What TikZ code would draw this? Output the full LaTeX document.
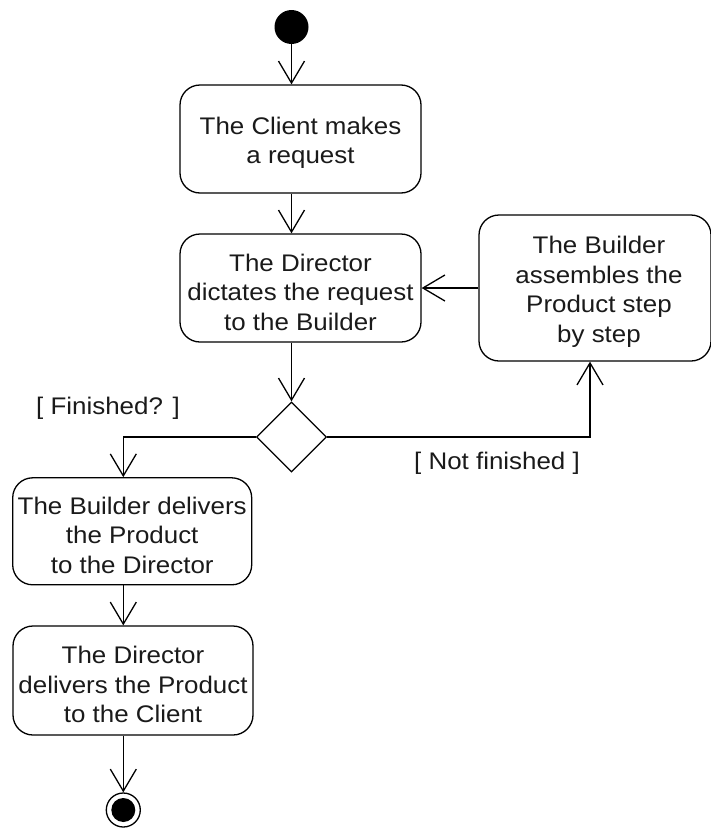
\documentclass[tikz,border=0pt]{standalone}
\usepackage{fontspec}
\setmainfont{Liberation Sans}[FakeStretch=1.08]
\usetikzlibrary{arrows.meta,shapes.geometric}
\definecolor{ink}{HTML}{1A1A1A}

\begin{document}
\begin{tikzpicture}[x=1pt,y=-1pt,
  txt/.style={font=\fontsize{24}{29.5}\selectfont, text=ink},
  act/.style={draw, line width=1.3pt, rounded corners=20pt, inner sep=0pt},
  acttext/.style={txt, align=center, inner sep=0pt, yshift=-4pt},
  flow/.style={line width=1.3pt,
               -{Straight Barb[length=22pt,width=26pt,line width=1.3pt]}},
  guard/.style={txt, inner sep=0pt}
]
\useasboundingbox (0,0) rectangle (711,830);

% initial and final nodes
\node[circle, fill=black, minimum size=34pt, inner sep=0pt] (start) at (291.5,27) {};
\node[circle, draw, line width=1.3pt, minimum size=34pt, inner sep=0pt] (fin) at (123.3,810) {};
\fill (fin.center) circle (12pt);

% actions: box outlines
\node[act, minimum width=241pt, minimum height=108pt] (b1) at (300.5,139) {};
\node[act, minimum width=241pt, minimum height=108pt] (b2) at (300.5,288) {};
\node[act, minimum width=232pt, minimum height=146pt] (b3) at (595,288) {};
\node[act, minimum width=239pt, minimum height=107pt] (b4) at (132.2,531.3) {};
\node[act, minimum width=240pt, minimum height=109pt] (b5) at (133,680.5) {};

% actions: captions
\node[acttext] (t1) at (b1.center) {The Client makes\\a request};
\node[acttext] (t2) at (b2.center) {The Director\\dictates the request\\to the Builder};
\node[acttext, xshift=4pt] (t3) at (b3.center) {The Builder\\assembles the\\Product step\\by step};
\node[acttext] (t4) at (b4.center) {The Builder delivers\\the Product\\to the Director};
\node[acttext] (t5) at (b5.center) {The Director\\delivers the Product\\to the Client};

% decision
\node[diamond, draw, line width=1.3pt, minimum width=70pt, minimum height=70pt,
      aspect=1, inner sep=0pt] (dec) at (291.5,437) {};

% guards
\node[guard] (gfin) at (108,408) {[ Finished? ]};
\node[guard] (gnot) at (497,463) {[ Not finished ]};

% control flow
\draw[flow] (start) -- (start |- b1.north);
\draw[flow] (start |- b1.south) -- (start |- b2.north);
\draw[flow] (start |- b2.south) -- (dec.north);
\draw[flow] (b3.west) -- (b2.east);
\draw[flow] (dec.east) -| ([xshift=-5pt]b3.south);
\draw[flow] (dec.west) -| (fin |- b4.north);
\draw[flow] (fin |- b4.south) -- (fin |- b5.north);
\draw[flow] (fin |- b5.south) -- (fin.north);
\end{tikzpicture}
\end{document}
